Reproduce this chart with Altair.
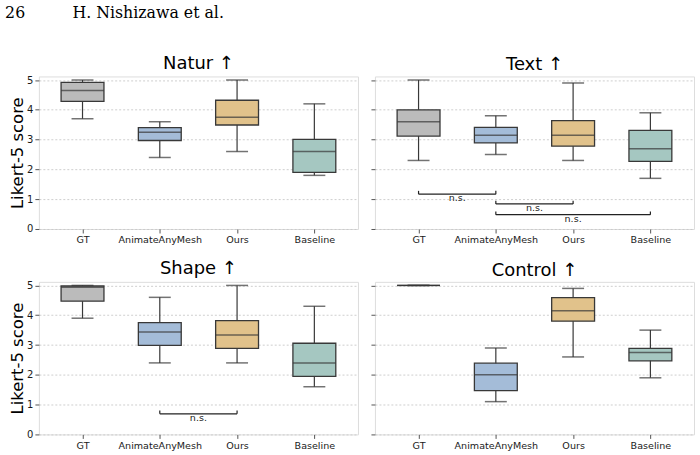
import json
import altair as alt
import pandas as pd

# Methods compared in every panel, in axis order, with their box colours
categories = ["GT", "AnimateAnyMesh", "Ours", "Baseline"]
box_colors = ["#bbbbbb", "#a4bcd8", "#e1c28b", "#a5c7c1"]

# Box-plot statistics per criterion (lower whisker, Q1, median, Q3, upper whisker)
natur_low = [3.70, 2.40, 2.60, 1.80]
natur_q1 = [4.28, 2.97, 3.49, 1.90]
natur_med = [4.65, 3.25, 3.75, 2.60]
natur_q3 = [4.92, 3.40, 4.32, 3.01]
natur_high = [5.00, 3.60, 5.00, 4.20]

text_low = [2.30, 2.50, 2.30, 1.70]
text_q1 = [3.12, 2.89, 2.78, 2.27]
text_med = [3.60, 3.15, 3.15, 2.69]
text_q3 = [4.00, 3.41, 3.64, 3.31]
text_high = [5.00, 3.80, 4.90, 3.90]

shape_low = [3.90, 2.40, 2.40, 1.60]
shape_q1 = [4.47, 2.99, 2.89, 1.95]
shape_med = [4.94, 3.44, 3.34, 2.40]
shape_q3 = [4.98, 3.75, 3.82, 3.06]
shape_high = [5.00, 4.60, 5.00, 4.30]

control_low = [5.00, 1.10, 2.60, 1.90]
control_q1 = [5.00, 1.47, 3.80, 2.47]
control_med = [5.00, 2.00, 4.15, 2.75]
control_q3 = [5.00, 2.39, 4.59, 2.89]
control_high = [5.00, 2.90, 4.90, 3.50]

# Significance brackets: (first method, second method, bracket level)
text_pairs_a = ["GT", "AnimateAnyMesh", "AnimateAnyMesh"]
text_pairs_b = ["AnimateAnyMesh", "Ours", "Baseline"]
text_levels = [1.17, 0.84, 0.48]

shape_pairs_a = ["AnimateAnyMesh"]
shape_pairs_b = ["Ours"]
shape_levels = [0.69]

y_ticks = [0, 1, 2, 3, 4, 5]

EDGE = "#383838"
FRAME = "#555555"
Y_DOMAIN = [0, 5.12]
PANEL_W, PANEL_H = 320, 153
BOX_W, CAP_W = 43, 22

label_expr = json.dumps(categories) + "[datum.value]"


def stats_frame(low, q1, med, q3, high):
    return pd.DataFrame({
        "method": categories,
        "pos": list(range(len(categories))),
        "low": low, "q1": q1, "med": med, "q3": q3, "high": high,
    })


def bracket_frame(a, b, levels):
    return pd.DataFrame({
        "left": [categories.index(m) for m in a],
        "right": [categories.index(m) for m in b],
        "level": levels,
    })


def panel(title, df, brackets=None, left=True):
    xscale = alt.Scale(domain=[-0.5, len(categories) - 0.5], nice=False, zero=False)
    xaxis = alt.Axis(
        values=list(range(len(categories))), labelExpr=label_expr,
        title=None, grid=False, domain=False, tickSize=4, tickColor=FRAME,
        labelFontSize=9.6, labelColor="#1a1a1a", labelPadding=2,
        labelFont="DejaVu Sans",
    )
    yaxis = alt.Axis(
        values=y_ticks, grid=True, gridDash=[2, 2], gridColor="#c9c9c9",
        gridWidth=0.9, domain=False, tickSize=4, tickColor=FRAME,
        labels=left, labelFontSize=10, labelColor="#1a1a1a", labelPadding=2,
        labelFont="DejaVu Sans",
        title="Likert-5 score" if left else None,
        titleFontSize=16.5, titleFont="DejaVu Sans", titleFontWeight="normal",
        titleColor="black", titlePadding=1,
    )
    yscale = alt.Scale(domain=Y_DOMAIN, nice=False, zero=False)

    def X(field):
        return alt.X(field, scale=xscale, axis=xaxis)

    def Y(field):
        return alt.Y(field, scale=yscale, axis=yaxis)

    base = alt.Chart(df)
    whisker = base.mark_rule(color=EDGE, strokeWidth=1.2).encode(
        x=X("pos:Q"), y=Y("low:Q"), y2="high:Q"
    )
    box = base.mark_bar(size=BOX_W, stroke=EDGE, strokeWidth=1.3).encode(
        x=X("pos:Q"), y=Y("q1:Q"), y2="q3:Q",
        color=alt.Color("method:N", scale=alt.Scale(domain=categories, range=box_colors), legend=None),
    )
    median = base.mark_tick(size=BOX_W, thickness=1.5, color=EDGE, orient="horizontal").encode(
        x=X("pos:Q"), y=Y("med:Q")
    )
    cap_low = base.mark_tick(size=CAP_W, thickness=1.5, color=EDGE, orient="horizontal").encode(
        x=X("pos:Q"), y=Y("low:Q")
    )
    cap_high = base.mark_tick(size=CAP_W, thickness=1.5, color=EDGE, orient="horizontal").encode(
        x=X("pos:Q"), y=Y("high:Q")
    )
    layers = [whisker, box, median, cap_low, cap_high]

    if brackets is not None:
        bb = alt.Chart(brackets).transform_calculate(
            top="datum.level + 0.11", mid="(datum.left + datum.right) / 2"
        )
        bar_line = bb.mark_rule(color="#222222", strokeWidth=1.2).encode(
            x=X("left:Q"), x2="right:Q", y=Y("level:Q")
        )
        end_a = bb.mark_rule(color="#222222", strokeWidth=1.2).encode(
            x=X("left:Q"), y=Y("level:Q"), y2="top:Q"
        )
        end_b = bb.mark_rule(color="#222222", strokeWidth=1.2).encode(
            x=X("right:Q"), y=Y("level:Q"), y2="top:Q"
        )
        label = bb.mark_text(
            text="n.s.", baseline="top", dy=-1, fontSize=9.6,
            font="DejaVu Sans", color="#1a1a1a",
        ).encode(x=X("mid:Q"), y=Y("level:Q"))
        layers += [bar_line, end_a, end_b, label]

    return alt.layer(*layers).properties(
        width=PANEL_W, height=PANEL_H,
        title=alt.TitleParams(title, fontSize=18, font="DejaVu Sans",
                              fontWeight="normal", color="black", offset=2),
    )


natur = panel("Natur ↑", stats_frame(natur_low, natur_q1, natur_med, natur_q3, natur_high))
text = panel("Text ↑", stats_frame(text_low, text_q1, text_med, text_q3, text_high),
             bracket_frame(text_pairs_a, text_pairs_b, text_levels), left=False)
shape = panel("Shape ↑", stats_frame(shape_low, shape_q1, shape_med, shape_q3, shape_high),
              bracket_frame(shape_pairs_a, shape_pairs_b, shape_levels))
control = panel("Control ↑", stats_frame(control_low, control_q1, control_med, control_q3, control_high),
                left=False)

chart = alt.vconcat(
    alt.hconcat(natur, text, spacing=11),
    alt.hconcat(shape, control, spacing=11),
    spacing=14,
).properties(
    title=alt.TitleParams(
        "26\u2003\u2003\u2003H. Nishizawa et al.", font="DejaVu Serif", fontSize=15.8,
        fontWeight="normal", color="black", anchor="start", offset=33, dx=-4,
    ),
    padding={"left": 5, "top": 4, "right": 5, "bottom": 5},
).configure_view(
    fill="#f2f2f2", stroke=FRAME, strokeWidth=1.2
).configure(background="white")

chart.save("out.html", embed_options={"renderer": "svg", "actions": False})
